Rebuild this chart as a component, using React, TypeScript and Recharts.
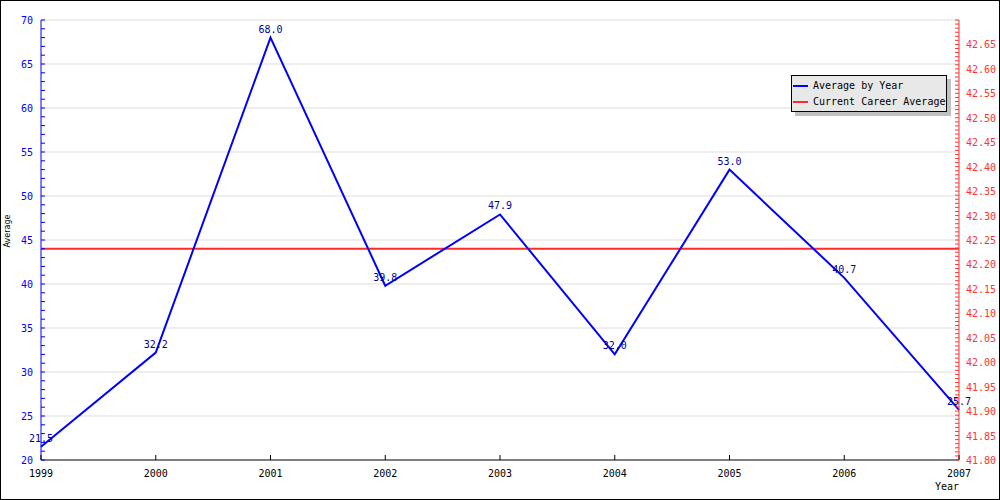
import { LineChart, Line, XAxis, YAxis, CartesianGrid, ReferenceLine, LabelList, Legend } from 'recharts'

const YEARS = ['1999', '2000', '2001', '2002', '2003', '2004', '2005', '2006', '2007']
const AVERAGES = [21.5, 32.2, 68.0, 39.8, 47.9, 32.0, 53.0, 40.7, 25.7]
const CAREER_AVG = 42.232

const LEFT_MAJOR = [20, 25, 30, 35, 40, 45, 50, 55, 60, 65, 70]
const RIGHT_MAJOR = [41.8, 41.85, 41.9, 41.95, 42.0, 42.05, 42.1, 42.15, 42.2, 42.25, 42.3, 42.35, 42.4, 42.45, 42.5, 42.55, 42.6, 42.65]

const FONT = '"DejaVu Sans Mono", monospace'
const BLUE = '#0000ff'
const RED = '#ff3333'

const data = YEARS.map((year, i) => ({ year, avg: AVERAGES[i] }))

// minor ticks: 5 per major on the left, 6 per major on the right
const leftTicks: number[] = []
for (let v = 20; v <= 70; v += 1) leftTicks.push(v)
const rightTicks: number[] = []
for (let i = 0; i <= 108; i += 1) rightTicks.push(41.8 + (i * 0.05) / 6)

function LeftTick({ x, y, payload }: any) {
  const v = payload.value as number
  const major = LEFT_MAJOR.includes(v)
  return (
    <g>
      <line x1={x} x2={x + 4} y1={y} y2={y} stroke={BLUE} />
      {major && (
        <text x={x - 8} y={y + 4} textAnchor="end" fill={BLUE} fontSize={10} fontFamily={FONT}>
          {v}
        </text>
      )}
    </g>
  )
}

function RightTick({ x, y, payload }: any) {
  const v = payload.value as number
  const major = RIGHT_MAJOR.some((m) => Math.abs(m - v) < 1e-6)
  return (
    <g>
      <line x1={x - 4} x2={x} y1={y} y2={y} stroke={RED} />
      {major && (
        <text x={x + 7} y={y + 4} textAnchor="start" fill={RED} fontSize={10} fontFamily={FONT}>
          {v.toFixed(2)}
        </text>
      )}
    </g>
  )
}

function BottomTick({ x, y, payload }: any) {
  return (
    <g>
      <line x1={x} x2={x} y1={y} y2={y - 5} stroke="#000" />
      <text x={x} y={y + 17} textAnchor="middle" fill="#000" fontSize={10} fontFamily={FONT}>
        {payload.value}
      </text>
    </g>
  )
}

function LegendBox() {
  const row = (color: string, text: string) => (
    <div style={{ display: 'flex', alignItems: 'center', height: 16, whiteSpace: 'nowrap' }}>
      <div style={{ width: 15, height: 2, background: color, marginRight: 5, flex: 'none' }} />
      <span>{text}</span>
    </div>
  )
  return (
    <div
      style={{
        width: 156,
        height: 37,
        border: '1px solid #000',
        background: '#e8e8e8',
        boxShadow: '4px 4px 0 #c0c0c0',
        fontFamily: FONT,
        fontSize: 10,
        color: '#000',
        padding: '2px 0 0 1px',
        boxSizing: 'border-box',
        lineHeight: '16px',
        whiteSpace: 'nowrap',
      }}
    >
      {row(BLUE, 'Average by Year')}
      {row('#ff2a2a', 'Current Career Average')}
    </div>
  )
}

export default function App() {
  return (
    <div style={{ position: 'absolute', left: 0, top: 0, width: 1000, height: 500, background: '#fff' }}>
      <LineChart width={1000} height={500} data={data} margin={{ top: 20, right: 0, bottom: 0, left: 0 }}>
        <CartesianGrid
          yAxisId="left"
          vertical={false}
          stroke="#dddddd"
          horizontalValues={[25, 30, 35, 40, 45, 50, 55, 60, 65, 70]}
        />
        <XAxis
          dataKey="year"
          height={40}
          tickSize={0}
          tickMargin={0}
          tickLine={false}
          interval={0}
          axisLine={{ stroke: '#000' }}
          tick={<BottomTick />}
          label={{
            content: () => (
              <text x={959} y={490} textAnchor="end" fill="#000" fontSize={10} fontFamily={FONT}>
                Year
              </text>
            ),
          }}
        />
        <YAxis
          yAxisId="left"
          width={41}
          domain={[20, 70]}
          allowDataOverflow
          ticks={leftTicks}
          interval={0}
          tickSize={0}
          tickMargin={0}
          tickLine={false}
          axisLine={{ stroke: BLUE }}
          tick={<LeftTick />}
          label={{
            content: () => (
              <text
                x={10}
                y={231}
                transform="rotate(-90 10 231)"
                textAnchor="middle"
                fill="#000"
                fontSize={8}
                fontFamily='"DejaVu Sans", sans-serif'
              >
                Average
              </text>
            ),
          }}
        />
        <YAxis
          yAxisId="right"
          orientation="right"
          type="number"
          width={41}
          domain={[41.8, 42.7]}
          allowDataOverflow
          ticks={rightTicks}
          interval={0}
          tickSize={0}
          tickMargin={0}
          tickLine={false}
          axisLine={{ stroke: RED }}
          tick={<RightTick />}
        />
        <ReferenceLine yAxisId="right" y={CAREER_AVG} stroke="#ff2a2a" strokeWidth={2} ifOverflow="extendDomain" />
        <Line
          yAxisId="left"
          type="linear"
          dataKey="avg"
          stroke={BLUE}
          strokeWidth={2}
          dot={false}
          isAnimationActive={false}
        >
          <LabelList
            dataKey="avg"
            position="top"
            offset={5}
            fill="#000099"
            fontSize={10}
            fontFamily={FONT}
            formatter={(v: any) => Number(v).toFixed(1)}
          />
        </Line>
        <Legend
          layout="vertical"
          align="center"
          verticalAlign="middle"
          wrapperStyle={{ left: 791, top: 75, width: 160 }}
          content={() => <LegendBox />}
        />
      </LineChart>
      <div
        style={{
          position: 'absolute',
          left: 0,
          top: 0,
          width: 1000,
          height: 500,
          border: '1px solid #000',
          boxSizing: 'border-box',
          pointerEvents: 'none',
        }}
      />
    </div>
  )
}
